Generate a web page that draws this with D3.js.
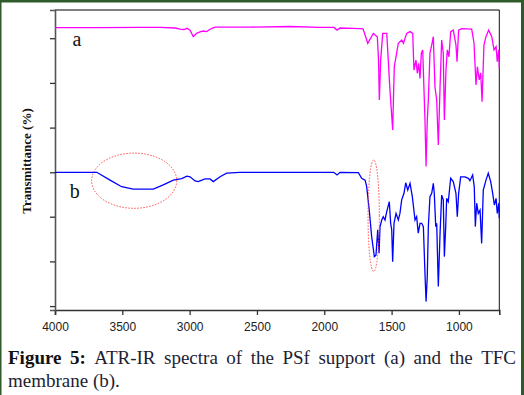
<!DOCTYPE html>
<html><head><meta charset="utf-8">
<script src="https://cdn.jsdelivr.net/npm/d3@7"></script>
<style>html,body{margin:0;padding:0;background:#fff;overflow:hidden}</style>
</head><body>
<svg id="c" width="524" height="395"></svg>
<script>
// ---- data (wavenumber cm^-1, transmittance in arbitrary %) ----
const xTicks = [4000, 3500, 3000, 2500, 2000, 1500, 1000];
const yTicks = [1.3, 16.2, 31.1, 45.9, 60.8, 75.7, 90.6];
const labelA = "a", labelB = "b";
const yTitle = "Transmittance (%)";
const captionLine1 = ["Figure", "5:", "ATR-IR", "spectra", "of", "the", "PSf", "support", "(a)", "and", "the", "TFC"];
const captionLine2 = "membrane (b).";

const waveA = [4000,3666,3369,3220,3109,3072,3042,3020,2997,2973,2948,2923,2899,2873,2849,2812,2552,2255,2032,1928,1905,1883,1735,1712,1677,1636,1606,1597,1591,1581,1566,1536,1512,1492,1480,1450,1425,1412,1388,1363,1343,1334,1319,1309,1299,1289,1279,1269,1252,1244,1235,1227,1215,1202,1190,1178,1165,1153,1140,1128,1116,1108,1096,1086,1074,1061,1042,1022,1014,1002,979,905,888,873,863,849,838,828,814,799,779,756,739,724,715,704,700];
const transA = [94.1,94.1,94.2,94.2,94.0,93.6,93.5,93.9,93.3,91.1,92.2,92.7,93.0,92.8,93.6,94.3,94.3,94.5,94.2,94.2,93.3,94.0,93.8,93.7,88.9,92.2,91.1,83.3,70.0,83.3,92.2,92.2,73.3,60.0,81.1,88.9,90.0,88.9,92.2,92.8,92.2,80.0,83.3,78.9,82.2,77.2,85.6,86.7,63.3,47.8,63.3,70.0,85.6,88.3,91.1,74.4,70.0,55.0,74.4,90.0,85.6,63.3,80.0,86.7,84.4,92.8,93.3,88.4,82.8,93.3,93.8,93.6,89.0,75.0,81.1,76.7,79.0,69.4,88.3,91.1,93.3,91.1,86.7,87.8,82.8,86.7,80.6];

const waveB = [4000,3690,3591,3505,3418,3270,3196,3121,3059,3020,2997,2960,2936,2886,2849,2824,2774,2725,2626,1930,1905,1883,1747,1722,1697,1685,1666,1648,1628,1616,1603,1593,1586,1573,1562,1549,1536,1517,1507,1499,1492,1482,1467,1450,1438,1425,1408,1395,1380,1363,1346,1326,1314,1302,1289,1276,1264,1252,1244,1235,1227,1215,1202,1190,1183,1172,1165,1153,1140,1128,1116,1108,1098,1091,1079,1061,1042,1022,1012,1002,987,955,930,918,898,886,878,868,856,843,831,819,799,782,764,749,737,724,715,704,700];
const transB = [45.9,45.9,43.3,41.1,40.3,40.3,41.7,43.3,43.8,44.6,44.4,43.0,42.8,43.7,43.7,42.8,44.4,45.6,45.9,45.9,45.0,45.9,45.8,43.9,43.3,41.1,33.3,24.4,17.8,18.3,26.7,18.9,27.8,30.0,31.1,30.0,32.8,36.1,28.9,26.7,16.1,28.9,32.2,30.0,32.2,36.7,38.9,42.4,40.0,42.2,37.8,30.0,31.1,25.6,28.9,28.9,27.8,12.2,2.8,11.1,27.8,37.8,38.9,42.2,38.9,27.8,28.9,7.8,25.6,38.3,36.7,17.8,27.8,37.2,36.1,43.9,42.8,38.9,31.1,38.9,44.4,44.4,43.9,43.1,45.0,41.1,27.8,35.6,32.2,33.3,22.2,40.0,43.3,45.6,42.8,38.9,35.0,37.2,32.2,35.6,30.6];

// highlight ellipses: centre wavenumber, centre transmittance, half-widths
const ellipseCx = [3412, 1633];
const ellipseCy = [43.1, 31.4];
const ellipseRx = [316, 42];
const ellipseRy = [9.2, 18.6];

// ---- drawing ----
const svg = d3.select("#c");
const W = 524, H = 395;
const m = {l: 55, r: 499.3, t: 10, b: 310};

svg.append("rect").attr("x",0).attr("y",0).attr("width",W).attr("height",H).attr("fill","#2f5b2a");
svg.append("rect").attr("x",1.5).attr("y",2.5).attr("width",519.5).attr("height",H).attr("fill","#fff");

const x = d3.scaleLinear().domain([4000, 700]).range([m.l, m.r]);
const y = d3.scaleLinear().domain([0, 100]).range([m.b, m.t]);

// frame top/right
svg.append("line").attr("x1",m.l).attr("x2",m.r).attr("y1",m.t).attr("y2",m.t).attr("stroke","#555").attr("stroke-width",1.6);
svg.append("line").attr("x1",m.r).attr("x2",m.r).attr("y1",m.t).attr("y2",m.b).attr("stroke","#111").attr("stroke-width",1);

// axes
const xAxis = d3.axisBottom(x).tickValues(xTicks).tickSize(5).tickFormat(d3.format("d"));
const gx = svg.append("g").attr("transform",`translate(0,${m.b})`).call(xAxis);
gx.select(".domain").attr("stroke","#333").attr("stroke-width",1.6);
gx.selectAll(".tick line").attr("stroke","#333").attr("stroke-width",1.3);
gx.selectAll(".tick text").attr("font-family","'Liberation Sans', Arial, sans-serif").attr("font-size","12px").attr("fill","#222").attr("dy","1.05em");

const yAxis = d3.axisLeft(y).tickValues(yTicks).tickSize(5).tickFormat("");
const gy = svg.append("g").attr("transform",`translate(${m.l},0)`).call(yAxis);
gy.select(".domain").attr("stroke","#555").attr("stroke-width",1.6);
gy.selectAll(".tick line").attr("stroke","#333").attr("stroke-width",1.3);

// spectra
const line = d3.line().x(d => x(d[0])).y(d => y(d[1]));
svg.append("path").datum(d3.zip(waveA, transA)).attr("d", line).attr("fill","none").attr("stroke","#ff00ff").attr("stroke-width",1.3);
svg.append("path").datum(d3.zip(waveB, transB)).attr("d", line).attr("fill","none").attr("stroke","#0000ff").attr("stroke-width",1.3);

// ellipses
const ells = d3.range(ellipseCx.length).map(i => ({cx: ellipseCx[i], cy: ellipseCy[i], rx: ellipseRx[i], ry: ellipseRy[i]}));
svg.selectAll("ellipse.hl").data(ells).enter().append("ellipse")
  .attr("cx", d => x(d.cx)).attr("cy", d => y(d.cy))
  .attr("rx", d => Math.abs(x(d.cx + d.rx) - x(d.cx)))
  .attr("ry", d => Math.abs(y(d.cy + d.ry) - y(d.cy)))
  .attr("fill","none").attr("stroke","#ff4a4a").attr("stroke-width",1).attr("stroke-dasharray","1.5,1.5");

// curve labels
svg.append("text").attr("x", x(3870)).attr("y", y(88.1)).text(labelA)
  .attr("font-family","'Liberation Serif', 'Times New Roman', serif").attr("font-size","20px").attr("fill","#111");
svg.append("text").attr("x", x(3890)).attr("y", y(37.4)).text(labelB)
  .attr("font-family","'Liberation Serif', 'Times New Roman', serif").attr("font-size","20px").attr("fill","#111");

// y title
svg.append("text").attr("transform","translate(31,161) rotate(-90)").attr("text-anchor","middle")
  .attr("font-family","'Liberation Serif', 'Times New Roman', serif").attr("font-weight","bold").attr("font-size","13px").attr("fill","#111")
  .text(yTitle);

// caption
const capFont = "'Liberation Serif', 'Times New Roman', serif";
const capLeft = 8, capRight = 516;
const g1 = svg.append("g");
const words = g1.selectAll("text").data(captionLine1).enter().append("text")
  .attr("y", 363.5).attr("font-family", capFont).attr("font-size","19px")
  .attr("font-weight", (d,i) => i < 2 ? "bold" : "normal")
  .attr("fill", (d,i) => i < 2 ? "#111" : "#1d1d35")
  .text(d => d);
const widths = words.nodes().map(n => n.getComputedTextLength());
const gap = (capRight - capLeft - d3.sum(widths)) / (captionLine1.length - 1);
let cx0 = capLeft;
words.each(function(d,i){ d3.select(this).attr("x", cx0); cx0 += widths[i] + gap; });
svg.append("text").attr("x", capLeft).attr("y", 386.5).attr("font-family", capFont).attr("font-size","19px").attr("fill","#1d1d35").text(captionLine2);
</script>
</body></html>
